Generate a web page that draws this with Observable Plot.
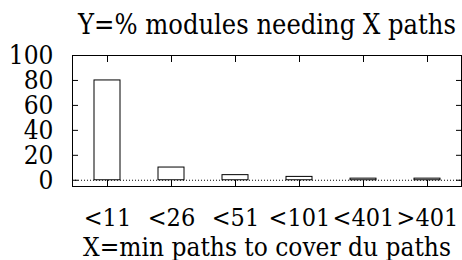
<!DOCTYPE html>
<html><head><meta charset="utf-8">
<script src="https://cdn.jsdelivr.net/npm/d3@7"></script>
<script src="https://cdn.jsdelivr.net/npm/@observablehq/plot@0.6"></script>
<style>
body{margin:0;background:#fff}
</style>
</head><body><div id="chart"></div>
<script>
const categories = ["<11", "<26", "<51", "<101", "<401", ">401"];
const percents = [80, 10.2, 4.1, 2.7, 1.3, 1.3];
const yTicks = [0, 20, 40, 60, 80, 100];
const title = "Y=% modules needing X paths";
const xLabel = "X=min paths to cover du paths";

const data = categories.map((c, i) => ({cat: c, pct: percents[i]}));
const serif = "DejaVu Serif Condensed";

const chart = Plot.plot({
  width: 462, height: 260,
  marginTop: 55, marginBottom: 74, marginLeft: 72, marginRight: 1,
  style: {fontFamily: serif, fontSize: "26px", background: "white", color: "black", overflow: "visible"},
  x: {type: "band", domain: categories, paddingInner: 0.6, paddingOuter: 0.3, label: null},
  y: {domain: [-5, 100], label: null},
  marks: [
    Plot.ruleY([0], {stroke: "black", strokeDasharray: "1,2", strokeWidth: 1}),
    Plot.barY(data, {x: "cat", y: "pct", fill: "white", stroke: "black", strokeWidth: 1}),
    Plot.axisY({anchor: "left", ticks: yTicks, tickSize: -6, tickPadding: 25, label: null, fontSize: 26, fontFamily: serif}),
    Plot.axisY({anchor: "right", ticks: yTicks, tickSize: -6, tickFormat: () => "", label: null}),
    Plot.axisX({anchor: "bottom", tickSize: -6, tickPadding: 28, label: null, fontSize: 25, fontFamily: serif}),
    Plot.axisX({anchor: "top", tickSize: -6, tickFormat: () => "", label: null}),
    Plot.frame({stroke: "black", strokeWidth: 1}),
    Plot.text([title], {frameAnchor: "top", lineAnchor: "bottom", dy: -22, fontSize: 27, fontFamily: serif, text: d => d}),
    Plot.text([xLabel], {frameAnchor: "bottom", lineAnchor: "bottom", dy: 69, fontSize: 26, fontFamily: serif, text: d => d})
  ]
});
document.getElementById("chart").appendChild(chart);
</script>
</body></html>
